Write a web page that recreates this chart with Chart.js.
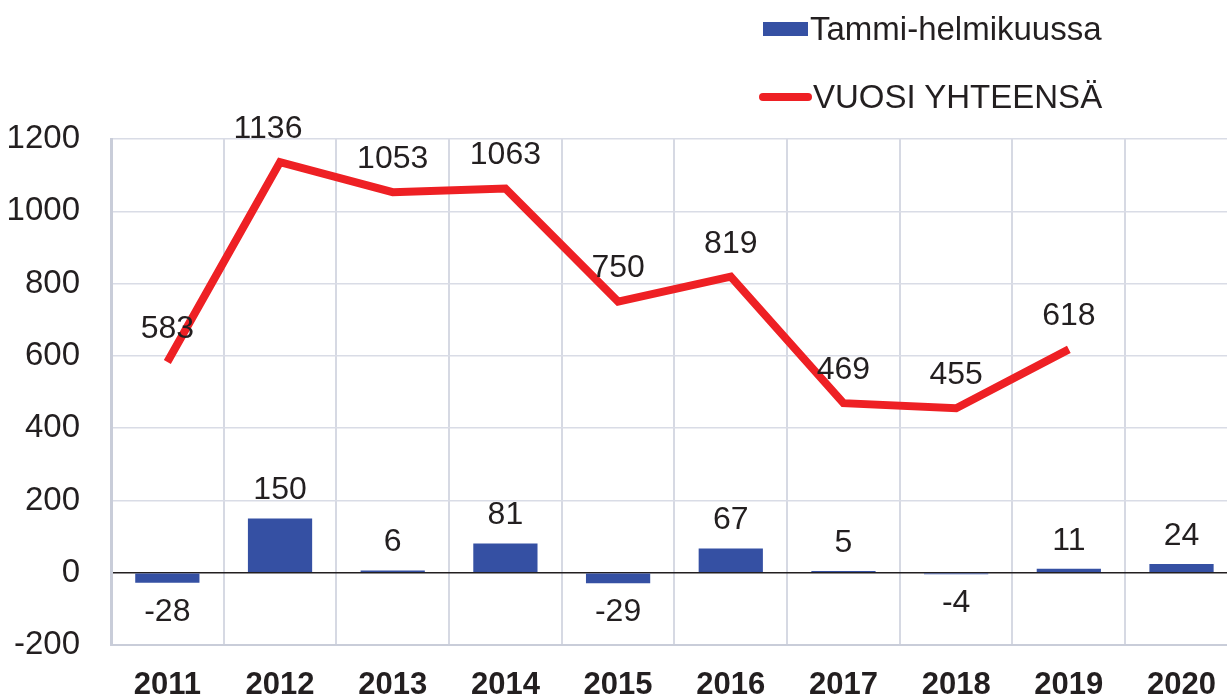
<!DOCTYPE html>
<html>
<head>
<meta charset="utf-8">
<script src="https://cdn.jsdelivr.net/npm/chart.js@4/dist/chart.umd.min.js"></script>
<style>
  html, body { margin: 0; padding: 0; background: #fff; overflow: hidden; }
  #wrap { position: relative; width: 1238px; height: 698px; }
  .legend { position: absolute; font-family: "Liberation Sans", Arial, sans-serif; font-size: 33px; color: #231f20; line-height: 33px; white-space: nowrap; }
  .swatch-bar { position: absolute; left: 763px; top: 22px; width: 45px; height: 14px; background: #3550a3; }
  .swatch-line { position: absolute; left: 759px; top: 93px; width: 53px; height: 8px; border-radius: 4px; background: #ee2024; }
</style>
</head>
<body>
<div id="wrap">
  <canvas id="chart" width="1238" height="698"></canvas>
  <div class="swatch-bar"></div>
  <div class="legend" style="left:810px; top:12px;">Tammi-helmikuussa</div>
  <div class="swatch-line"></div>
  <div class="legend" style="left:813px; top:80px;">VUOSI YHTEENSÄ</div>
</div>
<script>
const years = ["2011", "2012", "2013", "2014", "2015", "2016", "2017", "2018", "2019", "2020"];
const janFeb = [-28, 150, 6, 81, -29, 67, 5, -4, 11, 24];
const yearTotal = [583, 1136, 1053, 1063, 750, 819, 469, 455, 618, null];

const FONT = "Liberation Sans, Arial, sans-serif";
const TEXT = "#231f20";

// value labels above/below bars and above line points
const valueLabels = {
  id: "valueLabels",
  afterDatasetsDraw(chart) {
    const ctx = chart.ctx;
    ctx.save();
    ctx.font = `32px ${FONT}`;
    ctx.fillStyle = TEXT;
    ctx.textAlign = "center";
    ctx.textBaseline = "middle";
    chart.data.datasets.forEach((ds, i) => {
      const meta = chart.getDatasetMeta(i);
      meta.data.forEach((el, j) => {
        const v = ds.data[j];
        if (v === null || v === undefined) return;
        let x = el.x, y;
        if (ds.type === "line") {
          y = el.y - 33;
          if (j === 0) x -= 0;
          if (j === 1) x -= 12;
        } else {
          y = v >= 0 ? el.y - 28 : el.y + 29;
        }
        ctx.fillText(String(v), x, y);
      });
    });
    ctx.restore();
  },
};

new Chart(document.getElementById("chart"), {
  data: {
    labels: years,
    datasets: [
      {
        type: "line",
        label: "VUOSI YHTEENSÄ",
        data: yearTotal,
        borderColor: "#ee2024",
        borderWidth: 8,
        pointRadius: 0,
        tension: 0,
        order: 0,
      },
      {
        type: "bar",
        label: "Tammi-helmikuussa",
        data: janFeb,
        backgroundColor: "#3550a3",
        categoryPercentage: 1,
        barPercentage: 0.57,
        order: 1,
      },
    ],
  },
  options: {
    responsive: false,
    animation: false,
    layout: { padding: { top: 139, left: 0, right: 0, bottom: 0 } },
    plugins: { legend: { display: false }, tooltip: { enabled: false } },
    scales: {
      x: {
        offset: true,
        grid: { offset: true, color: "#d6d9e3", lineWidth: 2, drawTicks: false },
        border: { color: "#c9cdd9", width: 2 },
        ticks: { color: TEXT, font: { family: FONT, size: 31, weight: "bold" }, padding: 22, maxRotation: 0 },
        afterFit: (s) => { s.height = 53; },
      },
      y: {
        min: -200,
        max: 1200,
        grid: {
          drawTicks: false,
          lineWidth: 1.5,
          color: (c) => (c.tick && c.tick.value === 0 ? "#231f20" : "#d9dce6"),
        },
        border: { color: "#c9cdd9", width: 3 },
        ticks: { stepSize: 200, color: TEXT, font: { family: FONT, size: 33 }, padding: 31, callback: (v) => String(v) },
        afterFit: (s) => { s.width = 111; },
      },
    },
  },
  plugins: [valueLabels],
});
</script>
</body>
</html>
